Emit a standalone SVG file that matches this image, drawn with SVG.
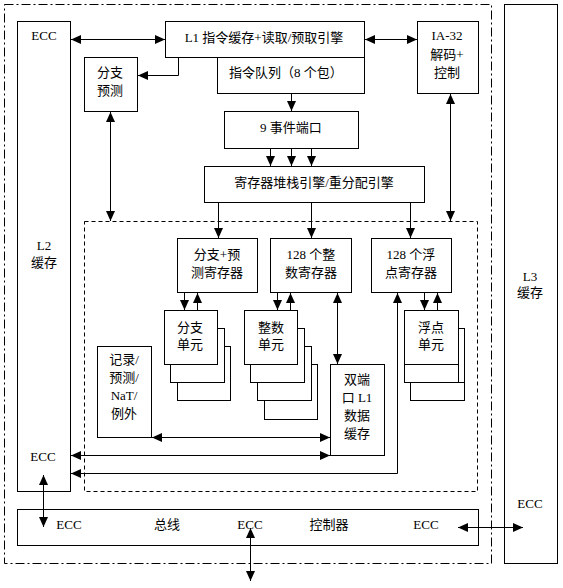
<svg xmlns="http://www.w3.org/2000/svg" width="563" height="588" viewBox="0 0 563 588">
<style>
rect{fill:#fff;stroke:#000;stroke-width:1}
.dd{fill:none;stroke-dasharray:9,3,2,3}
.dash{fill:none;stroke-dasharray:4,3}
line,path{stroke:#000;stroke-width:1;fill:none}
text{font-family:"Liberation Serif","Noto Sans CJK SC",serif;font-size:13px;fill:#000;text-anchor:middle}
</style>
<defs>
<marker id="a" markerUnits="userSpaceOnUse" markerWidth="10" markerHeight="9" refX="10" refY="4.5" orient="auto-start-reverse">
<path d="M0,0 L10,4.5 L0,9 Z" style="fill:#000;stroke:none"/>
</marker>
</defs>
<rect width="563" height="588" style="stroke:none"/>
<rect class="dd" x="4.5" y="4.5" width="487" height="559"/>
<rect class="dash" x="84.5" y="221.5" width="393" height="270"/>

<g id="l3"><rect x="504.5" y="4.5" width="53" height="559"/><text x="530" y="281">L3</text><text x="530" y="297">缓存</text><text x="530" y="508">ECC</text></g>
<g id="l2"><rect x="17.5" y="21.5" width="53" height="470"/><text x="44" y="40">ECC</text><text x="44" y="250">L2</text><text x="44" y="267">缓存</text><text x="43" y="461">ECC</text></g>
<g id="l1i"><rect x="165.5" y="21.5" width="199" height="36"/><text x="264" y="42">L1 指令缓存+读取/预取引擎</text></g>
<g id="queue"><rect x="217.5" y="57.5" width="147" height="36"/><text x="286" y="77">指令队列（8 个包）</text></g>
<g id="bp"><rect x="84.5" y="57.5" width="53" height="54"/><text x="110" y="77">分支</text><text x="110" y="95">预测</text></g>
<g id="ia32"><rect x="417.5" y="21.5" width="61" height="72"/><text x="447" y="40">IA-32</text><text x="447" y="59">解码+</text><text x="447" y="77">控制</text></g>
<g id="port9"><rect x="224.5" y="111.5" width="134" height="37"/><text x="291" y="132">9 事件端口</text></g>
<g id="regstack"><rect x="204.5" y="166.5" width="220" height="36"/><text x="314" y="187">寄存器堆栈引擎/重分配引擎</text></g>
<g id="breg"><rect x="177.5" y="238.5" width="80" height="54"/><text x="217" y="259">分支+预</text><text x="217" y="277">测寄存器</text></g>
<g id="ireg"><rect x="270.5" y="238.5" width="81" height="54"/><text x="311" y="259">128 个整</text><text x="311" y="277">数寄存器</text></g>
<g id="freg"><rect x="371.5" y="238.5" width="80" height="54"/><text x="411" y="259">128 个浮</text><text x="411" y="277">点寄存器</text></g>
<g id="bunit">
<rect x="177.5" y="346.5" width="53" height="54"/>
<rect x="170.5" y="328.5" width="54" height="54"/>
<rect x="164.5" y="310.5" width="53" height="54"/>
<text x="190" y="332">分支</text><text x="190" y="349">单元</text></g>
<g id="iunit">
<rect x="264.5" y="364.5" width="53" height="55"/>
<rect x="257.5" y="346.5" width="54" height="54"/>
<rect x="250.5" y="328.5" width="54" height="54"/>
<rect x="244.5" y="310.5" width="53" height="54"/>
<text x="271" y="332">整数</text><text x="271" y="349">单元</text></g>
<g id="funit">
<rect x="410.5" y="382.5" width="54" height="18"/>
<rect x="404.5" y="328.5" width="60" height="54"/>
<rect x="404.5" y="310.5" width="54" height="54"/>
<line x1="458.5" y1="364.5" x2="458.5" y2="382.5"/>
<text x="431" y="332">浮点</text><text x="431" y="349">单元</text></g>
<g id="dcache"><rect x="330.5" y="364.5" width="54" height="91"/><text x="357" y="384">双端</text><text x="357" y="402">口 L1</text><text x="357" y="420">数据</text><text x="357" y="438">缓存</text></g>
<g id="record"><rect x="97.5" y="346.5" width="54" height="91"/><text x="124" y="364">记录/</text><text x="124" y="382">预测/</text><text x="124" y="400">NaT/</text><text x="124" y="418">例外</text></g>
<g id="bus"><rect x="17.5" y="509.5" width="461" height="36"/><text x="69" y="529">ECC</text><text x="167" y="529">总线</text><text x="250" y="529">ECC</text><text x="329" y="529">控制器</text><text x="426" y="529">ECC</text></g>

<g id="connectors">
<line x1="71" y1="39.5" x2="165" y2="39.5" marker-start="url(#a)" marker-end="url(#a)"/>
<line x1="365" y1="39.5" x2="417" y2="39.5" marker-start="url(#a)" marker-end="url(#a)"/>
<path d="M178.5,58 V75.5 H138" marker-end="url(#a)"/>
<line x1="291.5" y1="94" x2="291.5" y2="111" marker-end="url(#a)"/>
<line x1="270.5" y1="149" x2="270.5" y2="166" marker-end="url(#a)"/>
<line x1="291.5" y1="149" x2="291.5" y2="166" marker-end="url(#a)"/>
<line x1="311.5" y1="149" x2="311.5" y2="166" marker-end="url(#a)"/>
<line x1="110.5" y1="112" x2="110.5" y2="221" marker-start="url(#a)" marker-end="url(#a)"/>
<line x1="450.5" y1="94" x2="450.5" y2="221" marker-start="url(#a)" marker-end="url(#a)"/>
<line x1="218.5" y1="203" x2="218.5" y2="238" marker-end="url(#a)"/>
<line x1="311.5" y1="203" x2="311.5" y2="238" marker-end="url(#a)"/>
<line x1="410.5" y1="203" x2="410.5" y2="238" marker-end="url(#a)"/>
<line x1="184.5" y1="293" x2="184.5" y2="310" marker-end="url(#a)"/>
<line x1="197.5" y1="310" x2="197.5" y2="293" marker-end="url(#a)"/>
<line x1="277.5" y1="293" x2="277.5" y2="310" marker-end="url(#a)"/>
<line x1="290.5" y1="310" x2="290.5" y2="293" marker-end="url(#a)"/>
<line x1="424.5" y1="293" x2="424.5" y2="310" marker-end="url(#a)"/>
<line x1="437.5" y1="310" x2="437.5" y2="293" marker-end="url(#a)"/>
<line x1="337.5" y1="293" x2="337.5" y2="364" marker-start="url(#a)" marker-end="url(#a)"/>
<line x1="152" y1="437.5" x2="330" y2="437.5" marker-start="url(#a)" marker-end="url(#a)"/>
<line x1="71" y1="455.5" x2="330" y2="455.5" marker-start="url(#a)" marker-end="url(#a)"/>
<path d="M71,473.5 H397.5 V293" marker-start="url(#a)" marker-end="url(#a)"/>
<line x1="43.5" y1="475" x2="43.5" y2="527" marker-start="url(#a)" marker-end="url(#a)"/>
<line x1="250.5" y1="528" x2="250.5" y2="581" marker-start="url(#a)" marker-end="url(#a)"/>
<line x1="458" y1="527.5" x2="523" y2="527.5" marker-start="url(#a)" marker-end="url(#a)"/>
</g>
</svg>
